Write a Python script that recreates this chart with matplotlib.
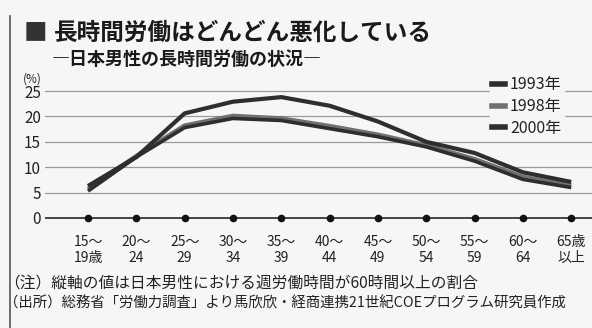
import matplotlib.pyplot as plt
from matplotlib.lines import Line2D

plt.rcParams['font.family'] = ['Noto Sans CJK JP', 'DejaVu Sans']

age_top = ["15～", "20～", "25～", "30～", "35～", "40～", "45～", "50～", "55～", "60～", "65歳"]
age_bottom = ["19歳", "24", "29", "34", "39", "44", "49", "54", "59", "64", "以上"]
years = ["1993年", "1998年", "2000年"]
share_1993 = [5.3, 12.0, 17.8, 19.6, 19.2, 17.6, 16.0, 14.0, 11.2, 7.6, 6.0]
share_1998 = [5.7, 12.2, 18.2, 20.1, 19.6, 18.1, 16.4, 14.3, 11.6, 8.1, 6.4]
share_2000 = [6.3, 12.0, 20.6, 22.9, 23.8, 22.1, 19.0, 15.0, 12.8, 9.0, 7.1]
y_ticks = [0, 5, 10, 15, 20, 25]

bg = "#f6f6f6"
fig = plt.figure(figsize=(5.92, 3.28), dpi=100, facecolor=bg)
ax = fig.add_axes([45 / 592, 103 / 328, 547 / 592, 145 / 328])
ax.set_facecolor(bg)

x = list(range(len(age_top)))

# grid
for v in y_ticks[1:]:
    ax.axhline(v, color="#9a9a9a", lw=0.9, zorder=1)
ax.axhline(0, color="#444444", lw=1.4, zorder=2)
ax.plot(x, [0] * len(x), "o", color="#111111", ms=4.5, zorder=3)

ax.plot(x, share_1998, color="#707070", lw=3.2, solid_capstyle="butt", zorder=4)
ax.plot(x, share_1993, color="#2e2e2e", lw=2.6, solid_capstyle="butt", zorder=5)
ax.plot(x, share_2000, color="#2e2e2e", lw=3.0, solid_capstyle="butt", zorder=5)

ax.set_xlim(-0.89, 10.43)
ax.set_ylim(-1.38, 27.17)
ax.set_yticks(y_ticks)
ax.set_yticklabels([str(v) for v in y_ticks], fontsize=11, color="#222222")
ax.tick_params(axis="y", length=0, pad=3)
ax.set_xticks(x)
ax.set_xticklabels([t + "\n" + b for t, b in zip(age_top, age_bottom)],
                   fontsize=10, color="#222222", linespacing=1.2)
ax.tick_params(axis="x", length=0, pad=7)
for s in ax.spines.values():
    s.set_visible(False)

handles = [Line2D([], [], color=c, lw=4) for c in ["#2e2e2e", "#707070", "#2e2e2e"]]
leg = fig.legend(handles, years, loc="upper left", bbox_to_anchor=(490 / 592, 1 - 74 / 328),
                 frameon=True, fontsize=11.5, handlelength=0.8, handletextpad=0.3,
                 labelspacing=0.3, borderpad=0.15, borderaxespad=0)
leg.get_frame().set_facecolor(bg)
leg.get_frame().set_edgecolor(bg)
leg.get_frame().set_alpha(1)
for t in leg.get_texts():
    t.set_color("#222222")

fig.text(24 / 592, 1 - 33 / 328, "■", fontsize=17, va="center", color="#333333")
fig.text(54 / 592, 1 - 33 / 328, "長時間労働はどんどん悪化している", fontsize=17,
         fontweight="bold", va="center", color="#1a1a1a")
fig.text(52 / 592, 1 - 59 / 328, "―日本男性の長時間労働の状況―", fontsize=13,
         fontweight="bold", va="center", color="#1a1a1a")
fig.text(23 / 592, 1 - 79 / 328, "(%)", fontsize=8.5, va="center", color="#222222")

fig.text(4 / 592, 1 - 283 / 328, "（注）縦軸の値は日本男性における週労働時間が60時間以上の割合",
         fontsize=11.3, va="center", color="#222222")
fig.text(4 / 592, 1 - 303 / 328,
         "（出所）総務省「労働力調査」より馬欣欣・経商連携21世紀COEプログラム研究員作成",
         fontsize=10.4, va="center", color="#222222")

fig.add_artist(Line2D([10 / 592, 10 / 592], [0, 0.95], color="#555555", lw=1.2))

fig.savefig("out.png", dpi=100, facecolor=bg)
